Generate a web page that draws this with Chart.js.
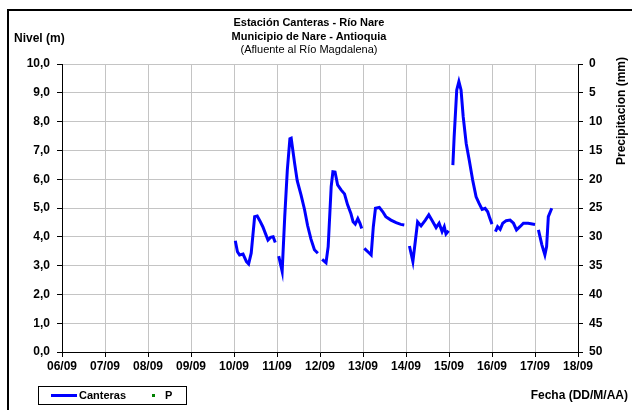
<!DOCTYPE html>
<html>
<head>
<meta charset="utf-8">
<title>Estación Canteras - Río Nare</title>
<script src="https://cdn.jsdelivr.net/npm/chart.js@4.4.1/dist/chart.umd.min.js"></script>
<style>
    body { margin: 0; background: #fff; }
    #wrap { position: relative; width: 632px; height: 410px; overflow: hidden; background: #fff;
            font-family: 'Liberation Sans', Arial, sans-serif; color: #000; }
    #marco { position: absolute; left: 7px; top: 9px; width: 700px; height: 500px;
             border-left: 2px solid #000; border-top: 2px solid #000; }
    #grafico { position: absolute; left: 0; top: 0; }
    .txt { position: absolute; font-size: 11px; line-height: 13px; white-space: nowrap; }
    .b { font-weight: bold; }
    .g { font-size: 12px; line-height: 14px; }
    .titulo { left: 0; width: 618px; text-align: center; }
    #precip { left: 561px; top: 104px; width: 120px; text-align: center; transform: rotate(-90deg); }
    #leyenda { position: absolute; left: 38px; top: 386px; width: 147px; height: 17px;
               border: 1px solid #000; font-size: 11px; font-weight: bold; }
    #leyenda .linea { position: absolute; left: 12px; top: 7px; width: 26px; height: 3px; background: #0000ff; }
    #leyenda .punto { position: absolute; left: 113px; top: 7px; width: 3px; height: 3px; background: #008000; }
</style>
</head>
<body>
<div id="wrap">
    <div id="marco"></div>
    <canvas id="grafico" width="632" height="410"></canvas>
    <div class="txt b titulo" style="top:16px">Estación Canteras - Río Nare</div>
    <div class="txt b titulo" style="top:30px">Municipio de Nare - Antioquia</div>
    <div class="txt titulo" style="top:43px">(Afluente al Río Magdalena)</div>
    <div class="txt b g" style="left:14px; top:31px">Nivel (m)</div>
    <div class="txt b g" id="precip">Precipitacion (mm)</div>
    <div class="txt b g" style="right:4px; top:388px">Fecha (DD/M/AA)</div>
    <div id="leyenda">
        <div class="linea"></div>
        <span style="position:absolute; left:40px; top:2px">Canteras</span>
        <div class="punto"></div>
        <span style="position:absolute; left:126px; top:2px">P</span>
    </div>
</div>
<script>
// Fechas en días de septiembre (con decimales = hora del día)
const etiquetasFecha = ['06/09', '07/09', '08/09', '09/09', '10/09', '11/09', '12/09',
                        '13/09', '14/09', '15/09', '16/09', '17/09', '18/09'];

const dias = [
    10.03, 10.08, 10.13, 10.21, 10.29, 10.34, 10.40, 10.48, 10.54, 10.60, 10.67, 10.73, 10.79, 10.85, 10.91, 10.96,
    11.00,
    11.04, 11.12, 11.18, 11.24, 11.30, 11.33, 11.41, 11.47, 11.56, 11.64, 11.71, 11.79, 11.87, 11.95,
    12.00,
    12.05, 12.14, 12.19, 12.26, 12.30, 12.35, 12.41, 12.49, 12.57, 12.64, 12.72, 12.77, 12.82, 12.88, 12.93, 12.97,
    13.00,
    13.03, 13.15, 13.19, 13.24, 13.29, 13.38, 13.46, 13.53, 13.65, 13.77, 13.88, 13.96,
    14.02,
    14.08, 14.16, 14.22, 14.27, 14.35, 14.45, 14.53, 14.60, 14.70, 14.77, 14.84, 14.89, 14.93, 14.99,
    15.04,
    15.09, 15.12, 15.18, 15.23, 15.28, 15.33, 15.40, 15.47, 15.55, 15.63, 15.70, 15.77, 15.84, 15.90, 15.95, 16.00,
    16.04,
    16.08, 16.13, 16.19, 16.25, 16.33, 16.42, 16.50, 16.57, 16.65, 16.73, 16.84, 17.00,
    17.04,
    17.08, 17.16, 17.23, 17.27, 17.31, 17.39
];

const nivel = [
    3.86, 3.48, 3.37, 3.40, 3.14, 3.06, 3.43, 4.70, 4.72, 4.56, 4.35, 4.12, 3.89, 3.98, 4.00, 3.80,
    null,
    3.33, 2.80, 4.70, 6.32, 7.40, 7.42, 6.55, 5.95, 5.45, 4.95, 4.40, 3.92, 3.55, 3.43,
    null,
    3.22, 3.10, 3.66, 5.74, 6.26, 6.25, 5.80, 5.63, 5.49, 5.12, 4.80, 4.52, 4.44, 4.63, 4.47, 4.29,
    null,
    3.60, 3.43, 3.37, 4.35, 4.99, 5.02, 4.87, 4.70, 4.58, 4.49, 4.43, 4.41,
    null,
    3.68, 3.14, 3.89, 4.52, 4.38, 4.58, 4.76, 4.58, 4.32, 4.47, 4.18, 4.35, 4.10, 4.21,
    null,
    6.49, 7.48, 9.10, 9.39, 9.10, 8.17, 7.24, 6.67, 5.97, 5.39, 5.16, 4.95, 4.99, 4.87, 4.64, 4.44,
    null,
    4.18, 4.35, 4.26, 4.47, 4.56, 4.58, 4.47, 4.24, 4.35, 4.47, 4.47, 4.43,
    null,
    4.24, 3.72, 3.37, 3.66, 4.70, 4.99
];

// Serie de precipitación: sin registros en el periodo
const precipitacion = [];

const fuenteEje = { family: "'Liberation Sans', Arial, sans-serif", size: 12, weight: 'bold' };

document.addEventListener('DOMContentLoaded', () => {
    const ctx = document.getElementById('grafico').getContext('2d');

    new Chart(ctx, {
        type: 'line',
        data: {
            datasets: [{
                label: 'Canteras',
                data: dias.map((d, i) => ({ x: d, y: nivel[i] })),
                borderColor: '#0000ff',
                borderWidth: 3,
                pointRadius: 0,
                spanGaps: false,
                tension: 0,
                yAxisID: 'y'
            }, {
                label: 'P',
                data: precipitacion,
                borderColor: '#008000',
                backgroundColor: '#008000',
                showLine: false,
                pointRadius: 1.5,
                yAxisID: 'y2'
            }]
        },
        options: {
            responsive: false,
            animation: false,
            layout: { padding: { top: 64, left: 0, right: 0, bottom: 0 } },
            plugins: {
                legend: { display: false },
                title: { display: false },
                tooltip: { enabled: false }
            },
            scales: {
                x: {
                    type: 'linear',
                    min: 6,
                    max: 18,
                    afterFit: s => { s.height = 58; },
                    afterBuildTicks: s => {
                        s.ticks = etiquetasFecha.map((_, i) => ({ value: 6 + i }));
                    },
                    ticks: {
                        color: '#000',
                        font: fuenteEje,
                        padding: 2,
                        maxRotation: 0,
                        autoSkip: false,
                        callback: (v, i) => etiquetasFecha[i]
                    },
                    grid: { color: '#c4c4c4', lineWidth: 1, tickColor: '#000', tickLength: 5 },
                    border: { color: '#000', width: 1 }
                },
                y: {
                    position: 'left',
                    min: 0,
                    max: 10,
                    afterFit: s => { s.width = 62; },
                    ticks: {
                        stepSize: 1,
                        color: '#000',
                        font: fuenteEje,
                        padding: 7,
                        callback: v => v.toFixed(1).replace('.', ',')
                    },
                    grid: { color: '#c4c4c4', lineWidth: 1, tickColor: '#000', tickLength: 5 },
                    border: { color: '#000', width: 1 }
                },
                y2: {
                    position: 'right',
                    reverse: true,
                    min: 0,
                    max: 50,
                    afterFit: s => { s.width = 54; },
                    ticks: {
                        stepSize: 5,
                        color: '#000',
                        font: fuenteEje,
                        padding: 6
                    },
                    grid: { drawOnChartArea: false, tickColor: '#000', tickLength: 5 },
                    border: { color: '#000', width: 1 }
                }
            }
        }
    });
});
</script>
</body>
</html>
